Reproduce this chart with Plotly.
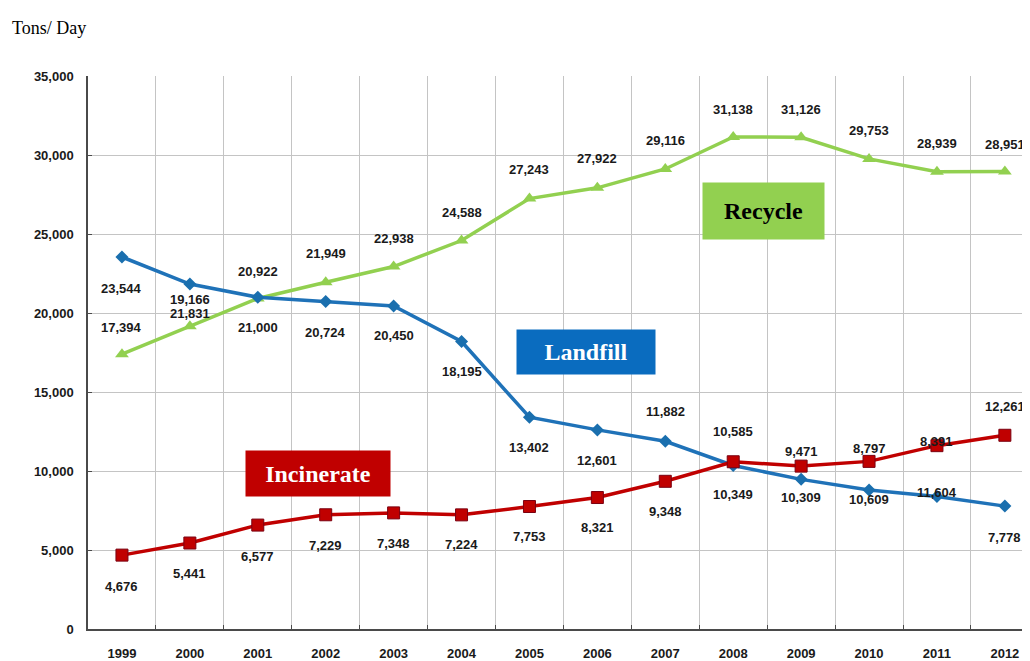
import plotly.graph_objects as go

years = ["1999", "2000", "2001", "2002", "2003", "2004", "2005",
         "2006", "2007", "2008", "2009", "2010", "2011", "2012"]
recycle = [17394, 19166, 20922, 21949, 22938, 24588, 27243,
           27922, 29116, 31138, 31126, 29753, 28939, 28951]
landfill = [23544, 21831, 21000, 20724, 20450, 18195, 13402,
            12601, 11882, 10349, 9471, 8797, 8391, 7778]
incinerate = [4676, 5441, 6577, 7229, 7348, 7224, 7753,
              8321, 9348, 10585, 10309, 10609, 11604, 12261]
y_ticks = [0, 5000, 10000, 15000, 20000, 25000, 30000, 35000]

# label offsets in px (positive = above the point), as in the source picture
recycle_shift = [27, 27, 27, 29, 28, 28, 29, 29, 28, 28, 28, 28, 28, 27]
landfill_shift = [-31, -29, -30, -31, -30, -30, -30, -31, 30, -29, 28, 42, 55, -31]
incinerate_shift = [-31, -30, -31, -31, -31, -30, -30, -30, -30, 30, -31, -38, -47, 29]

GREEN = "#92d050"
BLUE = "#1f72b8"
RED = "#c00000"
LABEL_FONT = dict(family="Liberation Sans, Arial, sans-serif", size=13, color="#1a1a1a")
BOX_FONT = "Liberation Serif, Times New Roman, serif"

fig = go.Figure()
fig.add_trace(go.Scatter(x=years, y=recycle, mode="lines+markers", name="Recycle",
                         line=dict(color=GREEN, width=3.5),
                         marker=dict(symbol="triangle-up", size=12, color=GREEN)))
fig.add_trace(go.Scatter(x=years, y=landfill, mode="lines+markers", name="Landfill",
                         line=dict(color=BLUE, width=3.5),
                         marker=dict(symbol="diamond", size=10, color="#1a6fae")))
fig.add_trace(go.Scatter(x=years, y=incinerate, mode="lines+markers", name="Incinerate",
                         line=dict(color=RED, width=3.5),
                         marker=dict(symbol="square", size=12, color=RED,
                                     line=dict(color="#7a0010", width=1))))

annotations = []
for values, shifts in [(recycle, recycle_shift), (landfill, landfill_shift),
                       (incinerate, incinerate_shift)]:
    # category axis: annotations take the category index
    for i, (v, s) in enumerate(zip(values, shifts)):
        annotations.append(dict(x=i, y=v, xref="x", yref="y", text=f"<b>{v:,}</b>",
                                showarrow=False, yshift=s, font=LABEL_FONT))


def label_box(x, y, text, bg, fg, w, h):
    return dict(x=x, y=y, xref="paper", yref="paper", text=f"<b>{text}</b>",
                showarrow=False, xanchor="center", yanchor="middle",
                bgcolor=bg, width=w, height=h, borderpad=2,
                font=dict(family=BOX_FONT, size=24, color=fg))


annotations += [
    label_box(0.717, 0.756, "Recycle", GREEN, "black", 117, 52),
    label_box(0.5287, 0.501, "Landfill", "#0a6cbf", "white", 134, 40),
    label_box(0.2442, 0.2812, "Incinerate", RED, "white", 140, 41),
    dict(x=-0.083, y=1.087, xref="paper", yref="paper", text="Tons/ Day",
         showarrow=False, xanchor="left", yanchor="middle",
         font=dict(family=BOX_FONT, size=18, color="black")),
]

# page body has an 8px margin, so the figure is 8px smaller than the window
fig.update_layout(
    width=1022,
    height=653,
    margin=dict(l=80, r=0, t=68, b=24),
    plot_bgcolor="white",
    paper_bgcolor="white",
    showlegend=False,
    annotations=annotations,
)
fig.update_xaxes(
    type="category",
    range=[-0.5, 13.37],
    tickson="boundaries",
    showgrid=True,
    gridcolor="#c4c4c4",
    gridwidth=1,
    showline=True,
    linecolor="#4a4a4a",
    linewidth=1.5,
    ticks="inside",
    ticklen=4,
    tickcolor="#4a4a4a",
    ticklabelstandoff=12,
    tickfont=dict(family=LABEL_FONT["family"], size=13, color="#1a1a1a", weight="bold"),
)
fig.update_yaxes(
    range=[0, 35000],
    tickvals=y_ticks,
    tickformat=",",
    showgrid=True,
    gridcolor="#c4c4c4",
    gridwidth=1,
    zeroline=False,
    showline=True,
    linecolor="#4a4a4a",
    linewidth=1.5,
    ticks="inside",
    ticklen=4,
    tickcolor="#4a4a4a",
    ticklabelstandoff=10,
    tickfont=dict(family=LABEL_FONT["family"], size=13, color="#1a1a1a", weight="bold"),
)

fig.write_html("out.html")
